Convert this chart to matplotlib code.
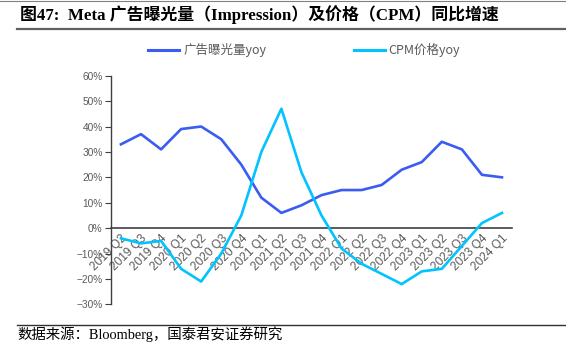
import numpy as np
import matplotlib.pyplot as plt
from matplotlib.lines import Line2D
from matplotlib.ticker import FuncFormatter


QUARTERS = [
    '2019 Q2', '2019 Q3', '2019 Q4',
    '2020 Q1', '2020 Q2', '2020 Q3', '2020 Q4',
    '2021 Q1', '2021 Q2', '2021 Q3', '2021 Q4',
    '2022 Q1', '2022 Q2', '2022 Q3', '2022 Q4',
    '2023 Q1', '2023 Q2', '2023 Q3', '2023 Q4',
    '2024 Q1',
]

# yoy growth, %
IMPRESSION_YOY = [33, 37, 31, 39, 40, 35, 25, 12, 6, 9, 13, 15, 15, 17, 23, 26, 34, 31, 21, 20]
CPM_YOY = [-4, -6, -5, -16, -21, -10, 5, 30, 47, 22, 5, -8, -14, -18, -22, -17, -16, -7, 2, 6]

Y_TICKS = [-30, -20, -10, 0, 10, 20, 30, 40, 50, 60]

BLUE = '#3A5CF2'
CYAN = '#00C3FF'
GREY = '#595959'

CJK = 'Noto Sans CJK SC'
SERIF = ['Liberation Serif', 'Noto Sans CJK SC']


def pct(v, pos):
    return ('\u2212%d%%' % -v) if v < 0 else '%d%%' % v


def main():
    fig = plt.figure(figsize=(5.66, 3.55), dpi=100)
    ax = fig.add_axes([0.196, 0.1425, 0.7086, 0.6443])

    x = np.arange(len(QUARTERS))
    ax.plot(x, IMPRESSION_YOY, color=BLUE, linewidth=1.9)
    ax.plot(x, CPM_YOY, color=CYAN, linewidth=1.9)

    ax.set_xlim(-0.5, len(QUARTERS) - 0.5)
    ax.set_ylim(-30, 60)
    ax.set_yticks(Y_TICKS)
    ax.yaxis.set_major_formatter(FuncFormatter(pct))

    for s in ('top', 'right'):
        ax.spines[s].set_visible(False)
    ax.spines['left'].set_color('#404040')
    ax.spines['left'].set_linewidth(1.0)
    ax.spines['bottom'].set_position(('data', 0))
    ax.spines['bottom'].set_color('#404040')
    ax.spines['bottom'].set_linewidth(1.2)
    ax.spines['bottom'].set_zorder(1)

    ax.tick_params(axis='y', length=4, width=0.8, color='#404040',
                   labelsize=7.3, labelcolor=GREY, pad=2)
    ax.tick_params(axis='x', length=0, labelsize=8.6, labelcolor=GREY, pad=3)
    ax.set_xticks(x)
    ax.set_xticklabels(QUARTERS, rotation=45, ha='right', va='top',
                       rotation_mode='anchor')
    for lab in ax.get_xticklabels() + ax.get_yticklabels():
        lab.set_family(['Liberation Sans', 'DejaVu Sans'])

    # legend
    handles = [Line2D([], [], color=BLUE, linewidth=2.2),
               Line2D([], [], color=CYAN, linewidth=2.2)]
    fig.legend(handles, ['广告曝光量yoy', 'CPM价格yoy'], loc='center',
               bbox_to_anchor=(0.5375, 0.859), ncol=2, frameon=False,
               handlelength=2.5, handletextpad=0.3, columnspacing=7.0,
               borderpad=0, prop={'family': [CJK], 'size': 9}, labelcolor=GREY)

    # title and frame lines
    fig.text(0.035, 0.958, '图47:  Meta 广告曝光量（Impression）及价格（CPM）同比增速',
             family=SERIF, weight='bold', fontsize=12.2, va='center', ha='left')
    fig.add_artist(Line2D([0.03, 1.0], [0.917, 0.917], color='#606060',
                          linewidth=1.6, transform=fig.transFigure))
    fig.add_artist(Line2D([0.0, 1.0], [0.996, 0.996], color='#808080',
                          linewidth=0.8, transform=fig.transFigure))
    fig.add_artist(Line2D([0.03, 1.0], [0.0837, 0.0837], color='#303030',
                          linewidth=1.0, transform=fig.transFigure))
    fig.text(0.031, 0.059, '数据来源：Bloomberg，国泰君安证券研究',
             family=SERIF, fontsize=10.4, va='center', ha='left')

    fig.savefig('out.png', dpi=100, facecolor='white')


if __name__ == '__main__':
    main()
